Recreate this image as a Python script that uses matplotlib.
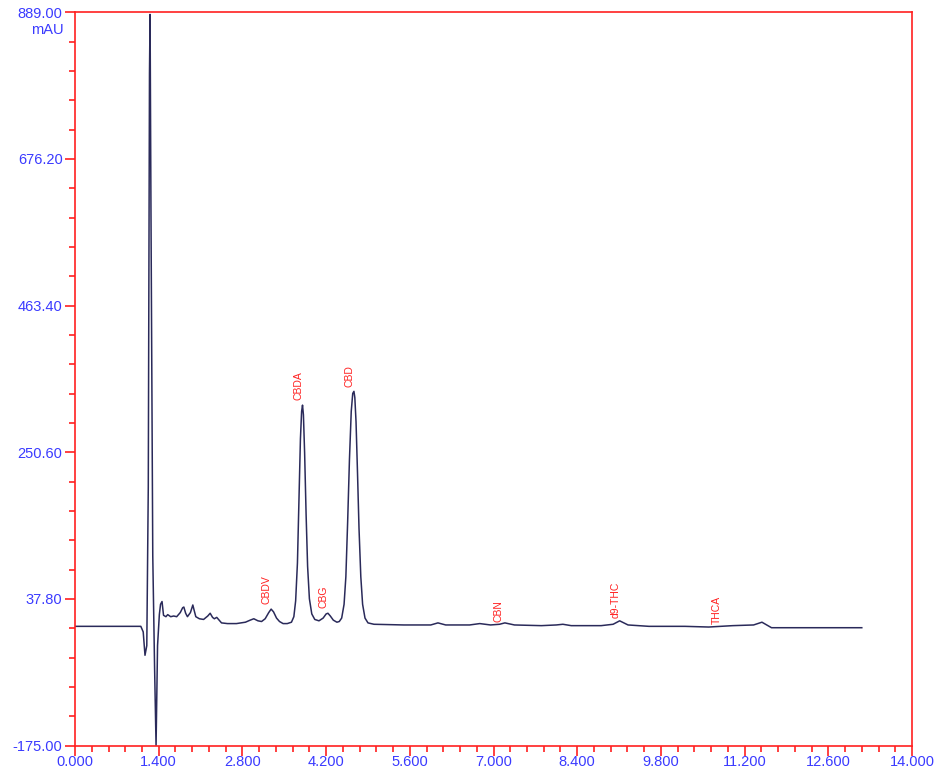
import numpy as np
import matplotlib.pyplot as plt
from matplotlib.ticker import MultipleLocator, FormatStrFormatter

# retention time (min) and absorbance (mAU)
time_min = [0.0, 0.5, 1.0, 1.10, 1.14, 1.17, 1.20, 1.225, 1.245, 1.255, 1.27, 1.30, 1.33, 1.355,
            1.38, 1.41, 1.43, 1.455, 1.48, 1.52, 1.55, 1.60, 1.65, 1.70, 1.76, 1.80, 1.82, 1.85,
            1.88, 1.93, 1.97, 1.99, 2.02, 2.08, 2.15, 2.22, 2.26, 2.30, 2.33, 2.37, 2.41, 2.45,
            2.55, 2.70, 2.85, 2.93, 2.99, 3.06, 3.12, 3.18, 3.24, 3.28, 3.32, 3.37, 3.42, 3.48,
            3.55, 3.62, 3.66, 3.69, 3.72, 3.745, 3.77, 3.79, 3.805, 3.82, 3.84, 3.865, 3.89, 3.92,
            3.96, 4.01, 4.08, 4.15, 4.20, 4.23, 4.27, 4.32, 4.38, 4.42, 4.46, 4.50, 4.53, 4.56,
            4.59, 4.62, 4.645, 4.665, 4.68, 4.70, 4.725, 4.75, 4.78, 4.81, 4.85, 4.90, 5.00, 5.50,
            5.95, 6.07, 6.20, 6.60, 6.77, 6.95, 7.10, 7.19, 7.35, 7.80, 8.05, 8.16, 8.30, 8.80,
            9.00, 9.11, 9.25, 9.60, 10.20, 10.60, 11.00, 11.35, 11.49, 11.65, 12.00, 12.60, 13.00, 13.16]
absorb_mau = [-2, -2, -2, -2, -10, -44, -30, 200, 800, 886, 600, 100, -60, -175,
              -30, 15, 30, 34, 14, 12, 15, 12, 13, 12, 18, 25, 26, 17,
              12, 18, 29, 22, 12, 9, 8, 13, 17, 11, 9, 11, 7, 3,
              2, 2, 4, 7, 9, 6, 5, 9, 18, 23, 19, 10, 5, 2,
              2, 4, 12, 35, 90, 180, 270, 310, 319, 305, 250, 160, 85, 38,
              16, 8, 6, 10, 16, 17, 13, 7, 4, 5, 10, 30, 70, 150,
              240, 310, 336, 339, 330, 295, 220, 140, 70, 30, 10, 3, 1, 0,
              0, 3, 0, 0, 2, 0, 1, 3, 0, -1, 0, 1, -1, -1,
              1, 6, 0, -2, -2, -3, -1, 0, 4, -4, -4, -4, -4, -4]

peak_names = ['CBDV', 'CBDA', 'CBG', 'CBD', 'CBN', 'd9-THC', 'THCA']
peak_times = [3.20, 3.73, 4.16, 4.59, 7.08, 9.04, 10.73]
peak_label_base = [30, 326, 24, 346, 4, 10, 2]

red = '#ff2020'
blue = '#3a3aff'

fig = plt.figure(figsize=(9.5, 7.71), dpi=100)
ax = fig.add_axes([0.079, 0.033, 0.881, 0.951])
ax.plot(time_min, absorb_mau, color='#2a2a5a', lw=1.1)

for name, t, v in zip(peak_names, peak_times, peak_label_base):
    ax.text(t, v, name, rotation=90, color=red, fontsize=7.5, ha='center', va='bottom',
            family='Liberation Sans')

y_major = [-175, 37.8, 250.6, 463.4, 676.2, 889]
ax.set_xlim(0, 14)
ax.set_ylim(-175, 889)
ax.xaxis.set_major_locator(MultipleLocator(1.4))
ax.xaxis.set_minor_locator(MultipleLocator(0.28))
ax.xaxis.set_major_formatter(FormatStrFormatter('%.3f'))
ax.set_yticks(y_major)
ax.set_yticks([-175 + 42.56 * i for i in range(26) if i % 5], minor=True)
ax.yaxis.set_major_formatter(FormatStrFormatter('%.2f'))

for s in ax.spines.values():
    s.set_color(red)
    s.set_linewidth(1.2)
ax.tick_params(which='both', color=red, direction='out', labelcolor=blue, labelsize=10.5, width=1.2)
ax.tick_params(which='major', length=7)
ax.tick_params(which='minor', length=4)
ax.tick_params(axis='x', pad=0)
ax.tick_params(axis='y', pad=2)
for lab in ax.get_xticklabels() + ax.get_yticklabels():
    lab.set_family('Liberation Sans')
ax.text(-0.013, 0.986, 'mAU', transform=ax.transAxes, ha='right', va='top', color=blue,
        fontsize=10.5, family='Liberation Sans')

fig.savefig('out.png', dpi=100)
